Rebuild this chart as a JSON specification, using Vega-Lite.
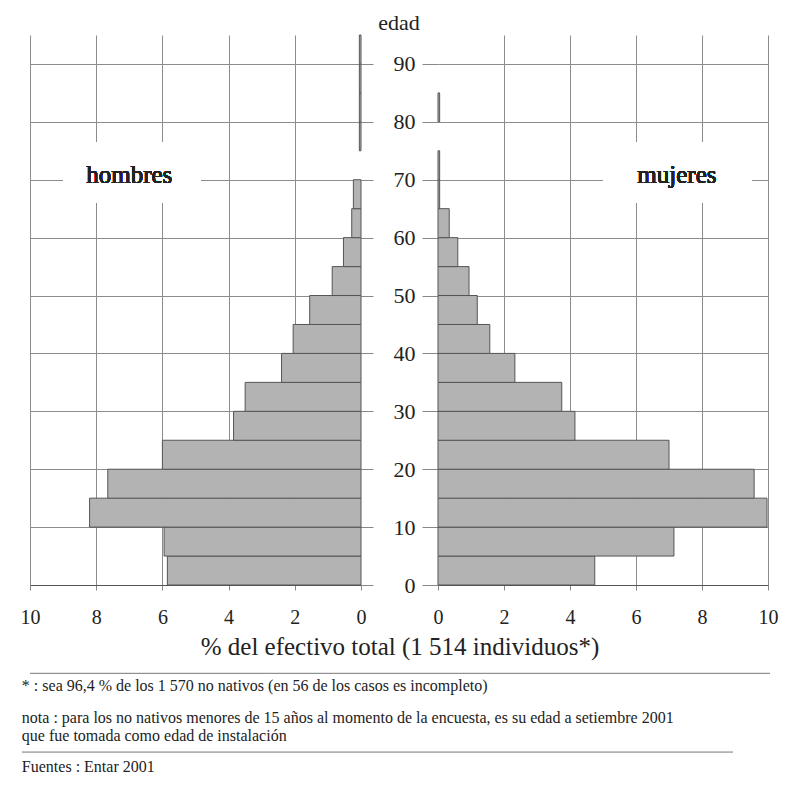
{
  "$schema": "https://vega.github.io/schema/vega-lite/v6.json",
  "background": "white",
  "padding": {"left": 20, "top": 11, "right": 5, "bottom": 0},
  "title": {"text": "edad", "fontSize": 22, "font": "Liberation Serif", "fontWeight": "normal", "color": "#222", "anchor": "middle", "offset": 0},
  "datasets": {
    "hombres": [
      {"edad": 0, "edad_fin": 5, "pct": 5.85},
      {"edad": 5, "edad_fin": 10, "pct": 5.95},
      {"edad": 10, "edad_fin": 15, "pct": 8.2},
      {"edad": 15, "edad_fin": 20, "pct": 7.65},
      {"edad": 20, "edad_fin": 25, "pct": 6.0},
      {"edad": 25, "edad_fin": 30, "pct": 3.85},
      {"edad": 30, "edad_fin": 35, "pct": 3.5},
      {"edad": 35, "edad_fin": 40, "pct": 2.4},
      {"edad": 40, "edad_fin": 45, "pct": 2.05},
      {"edad": 45, "edad_fin": 50, "pct": 1.55},
      {"edad": 50, "edad_fin": 55, "pct": 0.87},
      {"edad": 55, "edad_fin": 60, "pct": 0.53},
      {"edad": 60, "edad_fin": 65, "pct": 0.28},
      {"edad": 65, "edad_fin": 70, "pct": 0.23},
      {"edad": 75, "edad_fin": 80, "pct": 0.05},
      {"edad": 80, "edad_fin": 85, "pct": 0.05},
      {"edad": 85, "edad_fin": 90, "pct": 0.05},
      {"edad": 90, "edad_fin": 95, "pct": 0.05}
    ],
    "mujeres": [
      {"edad": 0, "edad_fin": 5, "pct": 4.75},
      {"edad": 5, "edad_fin": 10, "pct": 7.15},
      {"edad": 10, "edad_fin": 15, "pct": 9.97},
      {"edad": 15, "edad_fin": 20, "pct": 9.58},
      {"edad": 20, "edad_fin": 25, "pct": 7.0},
      {"edad": 25, "edad_fin": 30, "pct": 4.15},
      {"edad": 30, "edad_fin": 35, "pct": 3.75},
      {"edad": 35, "edad_fin": 40, "pct": 2.33},
      {"edad": 40, "edad_fin": 45, "pct": 1.57},
      {"edad": 45, "edad_fin": 50, "pct": 1.19},
      {"edad": 50, "edad_fin": 55, "pct": 0.94},
      {"edad": 55, "edad_fin": 60, "pct": 0.6},
      {"edad": 60, "edad_fin": 65, "pct": 0.34},
      {"edad": 65, "edad_fin": 70, "pct": 0.05},
      {"edad": 70, "edad_fin": 75, "pct": 0.05},
      {"edad": 80, "edad_fin": 85, "pct": 0.05}
    ]
  },
  "spacing": 6,
  "vconcat": [
    {
      "spacing": 77,
      "bounds": "flush",
      "hconcat": [
        {
          "width": 331,
          "height": 550,
          "data": {"name": "hombres"},
          "layer": [
            {
              "mark": {"type": "rect", "fill": "white", "cornerRadius": 16},
              "encoding": {
                "x": {"datum": 9.0, "type": "quantitative", "scale": {"domain": [0, 10], "reverse": true, "nice": false},
                  "axis": {"values": [0, 2, 4, 6, 8, 10], "title": null, "grid": true, "labelFlush": false, "labelPadding": 17,
                    "gridOpacity": {"condition": {"test": "datum.value == 0", "value": 0}, "value": 1}}},
                "x2": {"datum": 4.85},
                "y": {"datum": 66, "type": "quantitative", "scale": {"domain": [0, 95], "nice": false},
                  "axis": {"orient": "right", "values": [0, 5, 10, 15, 20, 25, 30, 35, 40, 45, 50, 55, 60, 65, 70, 75, 80, 85, 90, 95],
                    "labels": false, "title": null, "tickSize": 12, "domain": false, "grid": true}},
                "y2": {"datum": 76.5}
              }
            },
            {
              "mark": {"type": "rect", "fill": "#b3b3b3", "stroke": "#555", "strokeWidth": 1},
              "encoding": {
                "x": {"field": "pct", "type": "quantitative"},
                "x2": {"datum": 0},
                "y": {"field": "edad", "type": "quantitative"},
                "y2": {"field": "edad_fin"}
              }
            },
            {
              "mark": {"type": "text", "text": "hombres", "fontSize": 25, "fill": "#222", "align": "center", "baseline": "alphabetic"},
              "encoding": {"x": {"datum": 7.0}, "y": {"datum": 69.5}}
            }
          ]
        },
        {
          "width": 330,
          "height": 550,
          "data": {"name": "mujeres"},
          "layer": [
            {
              "mark": {"type": "rect", "fill": "white", "cornerRadius": 16},
              "encoding": {
                "x": {"datum": 5.0, "type": "quantitative", "scale": {"domain": [0, 10], "nice": false},
                  "axis": {"values": [0, 2, 4, 6, 8, 10], "title": null, "grid": true, "labelFlush": false, "labelPadding": 17,
                    "gridOpacity": {"condition": {"test": "datum.value == 0", "value": 0}, "value": 1}}},
                "x2": {"datum": 9.5},
                "y": {"datum": 66, "type": "quantitative", "scale": {"domain": [0, 95], "nice": false},
                  "axis": {"orient": "left", "values": [0, 5, 10, 15, 20, 25, 30, 35, 40, 45, 50, 55, 60, 65, 70, 75, 80, 85, 90, 95],
                    "labelExpr": "datum.value % 10 === 0 && datum.value < 95 ? datum.label : ''",
                    "labelFontSize": 22, "labelPadding": 7, "title": null, "tickSize": 16, "domain": false, "grid": true}},
                "y2": {"datum": 76.5}
              }
            },
            {
              "mark": {"type": "rect", "fill": "#b3b3b3", "stroke": "#555", "strokeWidth": 1},
              "encoding": {
                "x": {"field": "pct", "type": "quantitative"},
                "x2": {"datum": 0},
                "y": {"field": "edad", "type": "quantitative"},
                "y2": {"field": "edad_fin"}
              }
            },
            {
              "mark": {"type": "text", "text": "mujeres", "fontSize": 25, "fill": "#222", "align": "center", "baseline": "alphabetic"},
              "encoding": {"x": {"datum": 7.24}, "y": {"datum": 69.5}}
            }
          ]
        }
      ]
    },
    {
      "width": 740,
      "height": 150,
      "data": {"values": [{}]},
      "layer": [
        {
          "mark": {"type": "text", "text": "% del efectivo total (1 514 individuos*)", "fontSize": 25, "align": "center", "baseline": "alphabetic", "fill": "#222"},
          "encoding": {
            "x": {"datum": 50, "type": "quantitative", "scale": {"domain": [0, 100]}, "axis": null},
            "y": {"datum": 23, "type": "quantitative", "scale": {"domain": [0, 150], "reverse": true}, "axis": null}
          }
        },
        {
          "mark": {"type": "rule", "stroke": "#777", "strokeWidth": 1},
          "encoding": {"x": {"datum": 0, "type": "quantitative"}, "x2": {"datum": 100}, "y": {"datum": 43, "type": "quantitative"}}
        },
        {
          "mark": {"type": "text", "text": "* : sea 96,4 % de los 1 570 no nativos (en 56 de los casos es incompleto)", "fontSize": 16, "align": "left", "baseline": "alphabetic", "fill": "#222"},
          "encoding": {"x": {"datum": -1.1, "type": "quantitative"}, "y": {"datum": 62, "type": "quantitative"}}
        },
        {
          "mark": {"type": "text", "text": "nota : para los no nativos menores de 15 años al momento de la encuesta, es su edad a setiembre 2001", "fontSize": 16, "align": "left", "baseline": "alphabetic", "fill": "#222"},
          "encoding": {"x": {"datum": -1.1, "type": "quantitative"}, "y": {"datum": 96, "type": "quantitative"}}
        },
        {
          "mark": {"type": "text", "text": "que fue tomada como edad de instalación", "fontSize": 16, "align": "left", "baseline": "alphabetic", "fill": "#222"},
          "encoding": {"x": {"datum": -1.1, "type": "quantitative"}, "y": {"datum": 115, "type": "quantitative"}}
        },
        {
          "mark": {"type": "rule", "stroke": "#777", "strokeWidth": 1},
          "encoding": {"x": {"datum": -1.1, "type": "quantitative"}, "x2": {"datum": 95}, "y": {"datum": 127, "type": "quantitative"}}
        },
        {
          "mark": {"type": "text", "text": "Fuentes : Entar 2001", "fontSize": 16, "align": "left", "baseline": "alphabetic", "fill": "#222"},
          "encoding": {"x": {"datum": -1.1, "type": "quantitative"}, "y": {"datum": 148, "type": "quantitative"}}
        }
      ]
    }
  ],
  "config": {
    "view": {"stroke": null},
    "font": "Liberation Serif",
    "text": {"font": "Liberation Serif"},
    "axis": {
      "labelFont": "Liberation Serif",
      "labelFontSize": 20,
      "labelColor": "#222",
      "tickColor": "#888",
      "gridColor": "#8c8c8c",
      "gridWidth": 1,
      "domainColor": "#555",
      "tickSize": 5,
      "labelPadding": 4
    }
  }
}
